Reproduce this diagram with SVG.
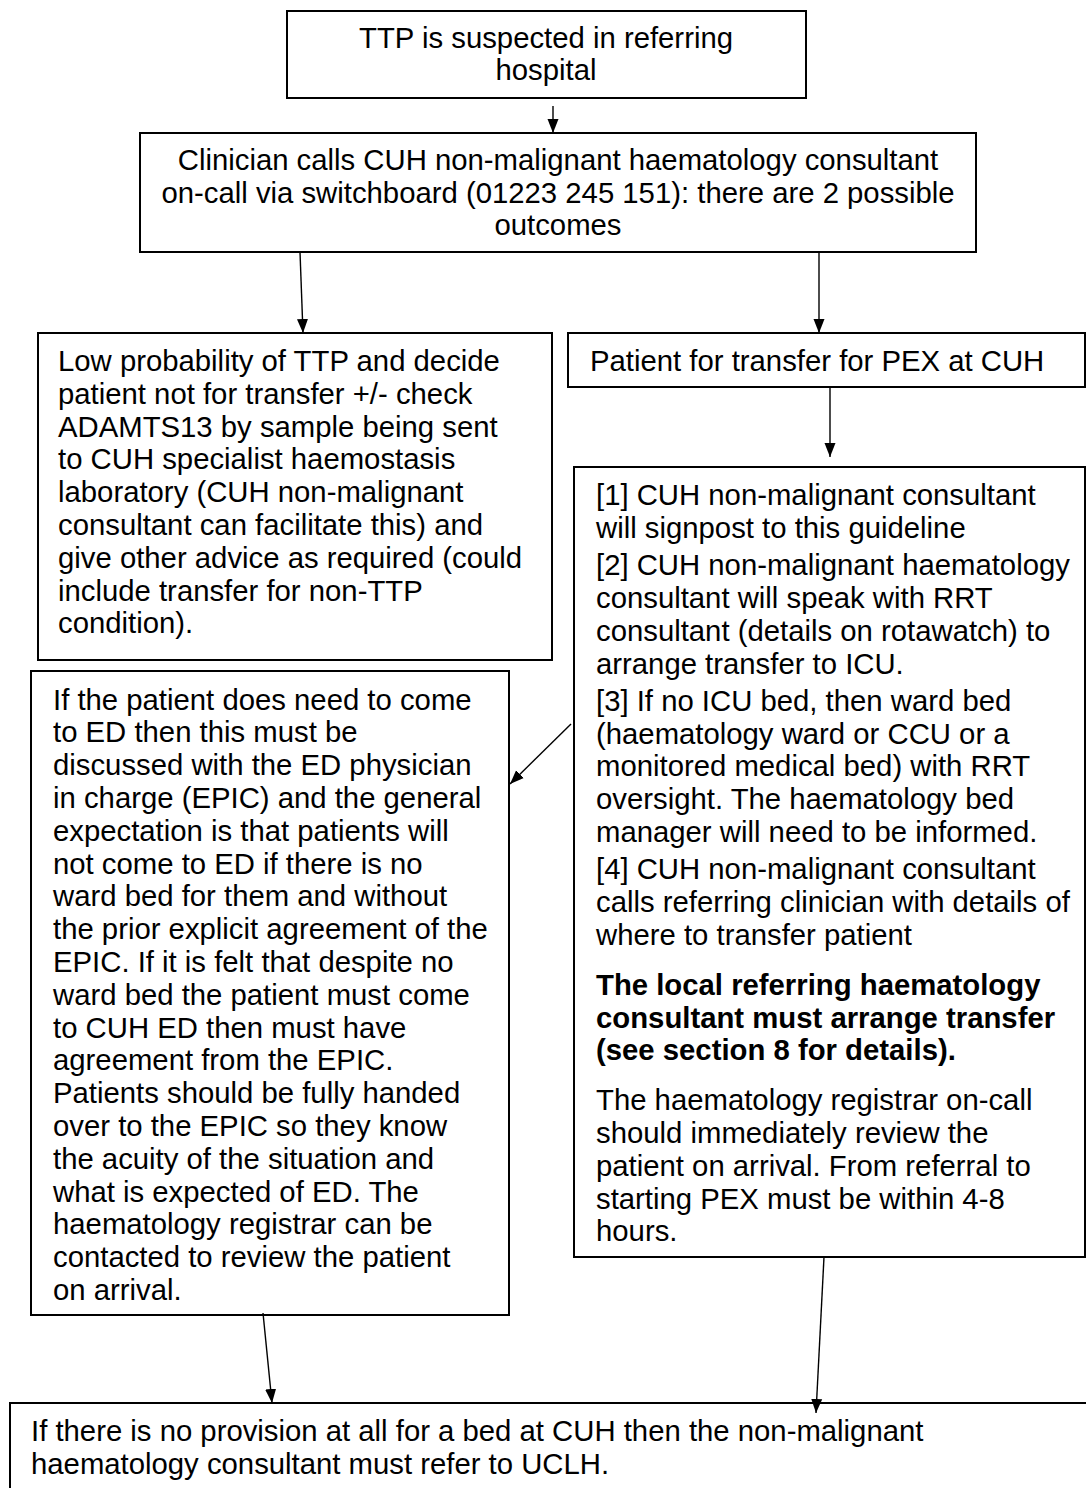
<svg xmlns="http://www.w3.org/2000/svg" width="1086" height="1488" viewBox="0 0 1086 1488">
<style>
  .box { fill: #ffffff; stroke: #000000; stroke-width: 2; }
  .t { font-family: "Liberation Sans", Arial, sans-serif; font-size: 29.3px; fill: #000000; }
  .c { text-anchor: middle; }
  .b { font-weight: bold; }
  .conn { stroke: #000000; stroke-width: 1.4; fill: none; }
</style>
<defs>
  <marker id="ah" markerUnits="userSpaceOnUse" markerWidth="15" markerHeight="12" refX="14" refY="6" orient="auto">
    <path d="M0,0.5 L14,6 L0,11.5 z" fill="#000000"/>
  </marker>
</defs>
<rect width="1086" height="1488" fill="#ffffff"/>

<g id="n1">
  <rect class="box" x="287" y="11" width="519" height="87"/>
  <text class="t c"><tspan x="546" y="48">TTP is suspected in referring</tspan><tspan x="546" y="80">hospital</tspan></text>
</g>

<g id="n2">
  <rect class="box" x="140" y="133" width="836" height="119"/>
  <text class="t c"><tspan x="558" y="170">Clinician calls CUH non-malignant haematology consultant</tspan><tspan x="558" y="202.5">on-call via switchboard (01223 245 151): there are 2 possible</tspan><tspan x="558" y="235">outcomes</tspan></text>
</g>

<g id="n3">
  <rect class="box" x="38" y="333" width="514" height="327"/>
  <text class="t"><tspan x="58" y="371">Low probability of TTP and decide</tspan><tspan x="58" y="403.8">patient not for transfer +/- check</tspan><tspan x="58" y="436.6">ADAMTS13 by sample being sent</tspan><tspan x="58" y="469.4">to CUH specialist haemostasis</tspan><tspan x="58" y="502.2">laboratory (CUH non-malignant</tspan><tspan x="58" y="535">consultant can facilitate this) and</tspan><tspan x="58" y="567.8">give other advice as required (could</tspan><tspan x="58" y="600.6">include transfer for non-TTP</tspan><tspan x="58" y="633.4">condition).</tspan></text>
</g>

<g id="n4">
  <rect class="box" x="568" y="333" width="517" height="54"/>
  <text class="t"><tspan x="590" y="371">Patient for transfer for PEX at CUH</tspan></text>
</g>

<g id="n5">
  <rect class="box" x="574" y="467" width="511" height="790"/>
  <text class="t">
    <tspan x="596" y="505">[1] CUH non-malignant consultant</tspan>
    <tspan x="596" y="537.8">will signpost to this guideline</tspan>
    <tspan x="596" y="575.1">[2] CUH non-malignant haematology</tspan>
    <tspan x="596" y="607.9">consultant will speak with RRT</tspan>
    <tspan x="596" y="640.7">consultant (details on rotawatch) to</tspan>
    <tspan x="596" y="673.5">arrange transfer to ICU.</tspan>
    <tspan x="596" y="710.8">[3] If no ICU bed, then ward bed</tspan>
    <tspan x="596" y="743.6">(haematology ward or CCU or a</tspan>
    <tspan x="596" y="776.4">monitored medical bed) with RRT</tspan>
    <tspan x="596" y="809.2">oversight. The haematology bed</tspan>
    <tspan x="596" y="842">manager will need to be informed.</tspan>
    <tspan x="596" y="879.3">[4] CUH non-malignant consultant</tspan>
    <tspan x="596" y="912.1">calls referring clinician with details of</tspan>
    <tspan x="596" y="944.9">where to transfer patient</tspan>
  </text>
  <text class="t b">
    <tspan x="596" y="994.7">The local referring haematology</tspan>
    <tspan x="596" y="1027.5">consultant must arrange transfer</tspan>
    <tspan x="596" y="1060.3">(see section 8 for details).</tspan>
  </text>
  <text class="t">
    <tspan x="596" y="1110.1">The haematology registrar on-call</tspan>
    <tspan x="596" y="1142.9">should immediately review the</tspan>
    <tspan x="596" y="1175.7">patient on arrival. From referral to</tspan>
    <tspan x="596" y="1208.5">starting PEX must be within 4-8</tspan>
    <tspan x="596" y="1241.3">hours.</tspan>
  </text>
</g>

<g id="n6">
  <rect class="box" x="31" y="671" width="478" height="644"/>
  <text class="t">
    <tspan x="53" y="709.5">If the patient does need to come</tspan>
    <tspan x="53" y="742.3">to ED then this must be</tspan>
    <tspan x="53" y="775.1">discussed with the ED physician</tspan>
    <tspan x="53" y="807.9">in charge (EPIC) and the general</tspan>
    <tspan x="53" y="840.7">expectation is that patients will</tspan>
    <tspan x="53" y="873.5">not come to ED if there is no</tspan>
    <tspan x="53" y="906.3">ward bed for them and without</tspan>
    <tspan x="53" y="939.1">the prior explicit agreement of the</tspan>
    <tspan x="53" y="971.9">EPIC. If it is felt that despite no</tspan>
    <tspan x="53" y="1004.7">ward bed the patient must come</tspan>
    <tspan x="53" y="1037.5">to CUH ED then must have</tspan>
    <tspan x="53" y="1070.3">agreement from the EPIC.</tspan>
    <tspan x="53" y="1103.1">Patients should be fully handed</tspan>
    <tspan x="53" y="1135.9">over to the EPIC so they know</tspan>
    <tspan x="53" y="1168.7">the acuity of the situation and</tspan>
    <tspan x="53" y="1201.5">what is expected of ED. The</tspan>
    <tspan x="53" y="1234.3">haematology registrar can be</tspan>
    <tspan x="53" y="1267.1">contacted to review the patient</tspan>
    <tspan x="53" y="1299.9">on arrival.</tspan>
  </text>
</g>

<g id="n7">
  <rect class="box" x="10" y="1403" width="1090" height="100"/>
  <text class="t"><tspan x="31" y="1441">If there is no provision at all for a bed at CUH then the non-malignant</tspan><tspan x="31" y="1474">haematology consultant must refer to UCLH.</tspan></text>
</g>

<g id="connectors">
  <line class="conn" x1="553" y1="106" x2="553" y2="133" marker-end="url(#ah)"/>
  <line class="conn" x1="300" y1="252" x2="303" y2="333" marker-end="url(#ah)"/>
  <line class="conn" x1="819" y1="252" x2="819" y2="333" marker-end="url(#ah)"/>
  <line class="conn" x1="830" y1="387" x2="830" y2="457" marker-end="url(#ah)"/>
  <line class="conn" x1="571" y1="724" x2="510" y2="784" marker-end="url(#ah)"/>
  <line class="conn" x1="263" y1="1313" x2="272" y2="1403" marker-end="url(#ah)"/>
  <line class="conn" x1="824" y1="1257" x2="816" y2="1413" marker-end="url(#ah)"/>
</g>
</svg>
